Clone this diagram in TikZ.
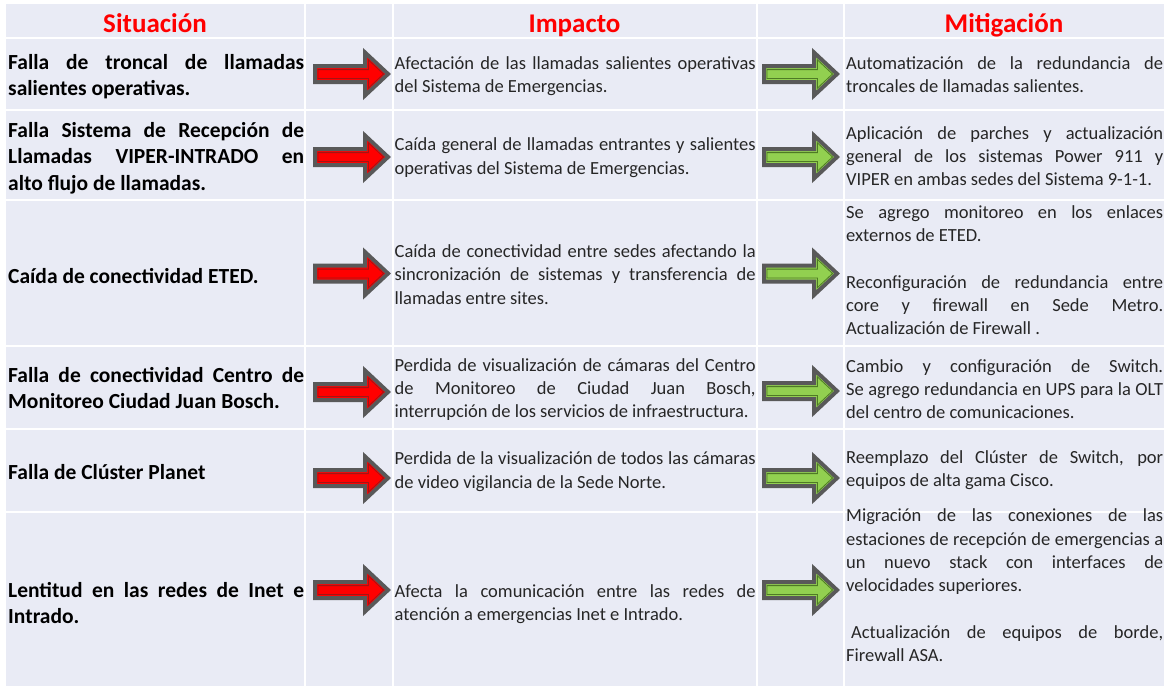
\documentclass[tikz,border=0pt]{standalone}
\usepackage{fontspec}
\setmainfont{Carlito}
\usetikzlibrary{calc}

\hbadness=10000
\hyphenpenalty=10000
\exhyphenpenalty=10000

\definecolor{fondo}{HTML}{E9EBF5}
\definecolor{rojo}{HTML}{FF0000}
\definecolor{rojooscuro}{HTML}{A31515}
\definecolor{verde}{HTML}{92D050}
\definecolor{verdeoscuro}{HTML}{4E7A25}
\definecolor{borde}{HTML}{595959}
\definecolor{texto}{HTML}{262626}

\newcommand{\fuentetitulo}{\fontsize{27}{32}\selectfont\bfseries}
\newcommand{\fuentesit}{\fontsize{21.5}{26.5}\selectfont\bfseries}
\newcommand{\fuentetexto}{\fontsize{18.5}{23.3}\selectfont}

\tikzset{
  titulo/.style={anchor=base, inner sep=0pt, font=\fuentetitulo, text=rojo},
  situacion/.style={anchor=west, inner sep=0pt, text width=296pt, align=justify,
      font=\fuentesit, text=black,
      execute at begin node=\strut, execute at end node=\strut},
  celda/.style={situacion, font=\fuentetexto, text=texto},
  impacto/.style={celda, text width=361pt},
  mitigacion/.style={celda, text width=317pt},
  linea/.style={draw=white, line width=2pt},
  pics/flecha/.style 2 args={code={
      \draw[borde, line width=4pt, fill=#1, line join=miter]
        (2,-8) -- (52,-8) -- (52,-21.5) -- (75,0) -- (52,21.5) -- (52,8) -- (2,8) -- cycle;
      \draw[#2, line width=0.8pt]
        (5,-4.4) -- (55.5,-4.4) -- (55.5,-14) -- (70.5,0) -- (55.5,14) -- (55.5,4.4) -- (5,4.4) -- cycle;
  }},
}

\begin{document}
\begin{tikzpicture}[x=1pt, y=-1pt]
    \useasboundingbox (0,0) rectangle (1173,686);

    %%% Tabla %%%

    \fill[fondo] (6,4) rectangle (1164,686);
    \draw[linea] (305,4) -- (305,686);
    \draw[linea] (392.5,4) -- (392.5,686);
    \draw[linea] (757,4) -- (757,686);
    \draw[linea] (844,4) -- (844,686);
    \draw[linea] (6,38) -- (1164,38);
    \draw[linea] (6,110) -- (1164,110);
    \draw[linea] (6,200) -- (1164,200);
    \draw[linea] (6,346) -- (1164,346);
    \draw[linea] (6,429) -- (1164,429);
    \draw[linea] (6,512) -- (1164,512);

    %%% Encabezado %%%

    \node[titulo] (h1) at (155,32) {Situación};
    \node[titulo] (h2) at (574.5,32) {Impacto};
    \node[titulo] (h3) at (1004,32) {Mitigación};

    %%% Fila A %%%

    \node[situacion] (a) at (8,77.2)
        {Falla de troncal de llamadas\linebreak salientes operativas.};
    \node[impacto] (a1) at (394.5,76.3)
        {Afectación de las llamadas salientes operativas\linebreak del Sistema de Emergencias.};
    \node[mitigacion] (a2) at (846,76.3)
        {Automatización de la redundancia de\linebreak troncales de llamadas salientes.};
    \pic (fa) at (313,74) {flecha={rojo}{rojooscuro}};
    \pic (fa1) at (762,74) {flecha={verde}{verdeoscuro}};

    %%% Fila B %%%

    \node[situacion] (b) at (8,158.2)
        {Falla Sistema de Recepción de\linebreak Llamadas VIPER-INTRADO en\linebreak alto flujo de llamadas.};
    \node[impacto] (b1) at (394.5,157.8)
        {Caída general de llamadas entrantes y salientes\linebreak operativas del Sistema de Emergencias.};
    \node[mitigacion] (b2) at (846,157.8)
        {Aplicación de parches y actualización\linebreak general de los sistemas Power 911 y\linebreak VIPER en ambas sedes del Sistema 9-1-1.};
    \pic (fb) at (313,157) {flecha={rojo}{rojooscuro}};
    \pic (fb1) at (762,157) {flecha={verde}{verdeoscuro}};

    %%% Fila C %%%

    \node[situacion] (c) at (8,277.7) {Caída de conectividad ETED.};
    \node[impacto] (c1) at (394.5,276.3)
        {Caída de conectividad entre sedes afectando la\linebreak sincronización de sistemas y transferencia de\linebreak llamadas entre sites.};
    \node[mitigacion] (c2) at (846,272)
        {Se agrego monitoreo en los enlaces\linebreak externos de ETED.\par\vspace{\baselineskip}
         Reconfiguración de redundancia entre\linebreak core y firewall en Sede Metro.\linebreak Actualización de Firewall .};
    \pic (fc) at (313,273.5) {flecha={rojo}{rojooscuro}};
    \pic (fc1) at (762,273.5) {flecha={verde}{verdeoscuro}};

    %%% Fila D %%%

    \node[situacion] (d) at (8,390.2)
        {Falla de conectividad Centro de\linebreak Monitoreo Ciudad Juan Bosch.};
    \node[impacto] (d1) at (394.5,389.8)
        {Perdida de visualización de cámaras del Centro\linebreak de Monitoreo de Ciudad Juan Bosch,\linebreak interrupción de los servicios de infraestructura.};
    \node[mitigacion] (d2) at (846,390.8)
        {Cambio y configuración de Switch.\linebreak Se agrego redundancia en UPS para la OLT\linebreak del centro de comunicaciones.};
    \pic (fd) at (313,392) {flecha={rojo}{rojooscuro}};
    \pic (fd1) at (762,391) {flecha={verde}{verdeoscuro}};

    %%% Fila E %%%

    \node[situacion] (e) at (8,473.7) {Falla de Clúster Planet};
    \node[impacto] (e1) at (394.5,471.8)
        {Perdida de la visualización de todos las cámaras\linebreak de video vigilancia de la Sede Norte.};
    \node[mitigacion] (e2) at (846,470.3)
        {Reemplazo del Clúster de Switch, por\linebreak equipos de alta gama Cisco.};
    \pic (fe) at (313,478) {flecha={rojo}{rojooscuro}};
    \pic (fe1) at (762,478) {flecha={verde}{verdeoscuro}};

    %%% Fila F %%%

    \node[situacion] (f) at (8,605.2)
        {Lentitud en las redes de Inet e\linebreak Intrado.};
    \node[impacto] (f1) at (394.5,604.3)
        {Afecta la comunicación entre las redes de\linebreak atención a emergencias Inet e Intrado.};
    \node[mitigacion] (f2) at (846,587)
        {Migración de las conexiones de las\linebreak estaciones de recepción de emergencias a\linebreak un nuevo stack con interfaces de\linebreak velocidades superiores.\par\vspace{\baselineskip}
         \hspace*{5pt}Actualización de equipos de borde,\linebreak Firewall ASA.};
    \pic (ff) at (313,590) {flecha={rojo}{rojooscuro}};
    \pic (ff1) at (762,590) {flecha={verde}{verdeoscuro}};

\end{tikzpicture}
\end{document}
